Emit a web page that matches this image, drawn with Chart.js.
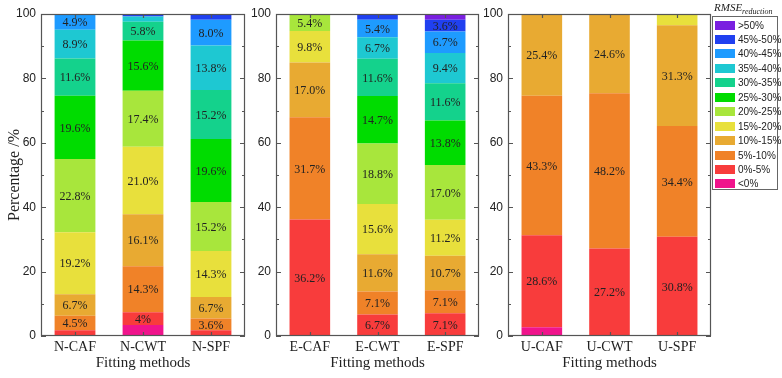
<!DOCTYPE html>
<html>
<head>
<meta charset="utf-8">
<script src="https://cdn.jsdelivr.net/npm/chart.js@4.4.1/dist/chart.umd.min.js"></script>
<style>
  body { margin: 0; background: #fff; }
  #wrap { position: relative; width: 782px; height: 378px; overflow: hidden; }
  canvas { position: absolute; top: 0; }
  #legend { position: absolute; left: 712px; top: 16px; width: 66px; height: 174px;
            border: 1px solid #666; box-sizing: border-box; font: 10px "Liberation Sans", Arial, sans-serif; color: #222; }
  #legend .row { position: absolute; left: 2px; height: 14px; display: flex; align-items: center; }
  #legend .sw { width: 20px; height: 9px; margin-right: 3px; }
  #ltitle { position: absolute; left: 714px; top: 1px; font: italic 11px "Liberation Serif", serif; color: #222; }
  #ltitle sub { font-size: 8px; }
</style>
</head>
<body>
<div id="wrap">
  <canvas id="c1" width="250" height="378" style="left:0px"></canvas>
  <canvas id="c2" width="234" height="378" style="left:250px"></canvas>
  <canvas id="c3" width="232" height="378" style="left:484px"></canvas>
  <div id="ltitle">RMSE<sub>reduction</sub></div>
  <div id="legend"></div>
</div>
<script>
// bins, bottom of the stack first
const bins = ['<0%', '0%-5%', '5%-10%', '10%-15%', '15%-20%', '20%-25%', '25%-30%',
  '30%-35%', '35%-40%', '40%-45%', '45%-50%', '>50%']
const binColors = ['#f0148c', '#f83c3c', '#f08228', '#e8aa32', '#e8e03c', '#a8e63c', '#00dc00',
  '#14d28c', '#1ec8d2', '#1e9bff', '#2040f0', '#7a1fe0']

const nMethods = ['N-CAF', 'N-CWT', 'N-SPF']
const eMethods = ['E-CAF', 'E-CWT', 'E-SPF']
const uMethods = ['U-CAF', 'U-CWT', 'U-SPF']

// one row per bin, one column per method
const nValues = [
  [0, 3.4, 0],
  [1.8, 4, 1.8],
  [4.5, 14.3, 3.6],
  [6.7, 16.1, 6.7],
  [19.2, 21.0, 14.3],
  [22.8, 17.4, 15.2],
  [19.6, 15.6, 19.6],
  [11.6, 5.8, 15.2],
  [8.9, 1.6, 13.8],
  [4.9, 0, 8.0],
  [0, 0.8, 1.8],
  [0, 0, 0]
]
const eValues = [
  [0, 0, 0],
  [36.2, 6.7, 7.1],
  [31.7, 7.1, 7.1],
  [17.0, 11.6, 10.7],
  [9.8, 15.6, 11.2],
  [5.4, 18.8, 17.0],
  [0, 14.7, 13.8],
  [0, 11.6, 11.6],
  [0, 6.7, 9.4],
  [0, 5.4, 6.7],
  [0, 1.8, 3.6],
  [0, 0, 1.8]
]
const uValues = [
  [2.7, 0, 0],
  [28.6, 27.2, 30.8],
  [43.3, 48.2, 34.4],
  [25.4, 24.6, 31.3],
  [0, 0, 3.5],
  [0, 0, 0],
  [0, 0, 0],
  [0, 0, 0],
  [0, 0, 0],
  [0, 0, 0],
  [0, 0, 0],
  [0, 0, 0]
]

const yTicks = [0, 20, 40, 60, 80, 100]

function fmt(v) {
  // the N-CWT 0%-5% segment is printed as "4%" in the figure
  return v === 4 ? '4%' : v.toFixed(1) + '%'
}

const framePlugin = {
  id: 'frame',
  afterDraw(chart) {
    const { ctx, chartArea: a, scales } = chart
    ctx.save()
    ctx.strokeStyle = '#555'
    ctx.lineWidth = 1.2
    ctx.strokeRect(a.left + 0.5, a.top + 0.5, a.right - a.left - 1, a.bottom - a.top - 1)
    ctx.beginPath()
    for (let v = 0; v <= 100; v += 10) {
      const y = Math.round(scales.y.getPixelForValue(v)) + 0.5
      const len = v % 20 === 0 ? 5 : 3
      ctx.moveTo(a.left, y); ctx.lineTo(a.left + len, y)
      ctx.moveTo(a.right, y); ctx.lineTo(a.right - len, y)
    }
    chart.data.labels.forEach((l, i) => {
      const x = Math.round(scales.x.getPixelForValue(i)) + 0.5
      ctx.moveTo(x, a.top); ctx.lineTo(x, a.top + 4)
      ctx.moveTo(x, a.bottom); ctx.lineTo(x, a.bottom - 4)
    })
    ctx.stroke()
    ctx.restore()
  },
  afterDatasetsDraw(chart) {
    const ctx = chart.ctx
    ctx.save()
    ctx.font = '12px "Liberation Serif", "Times New Roman", serif'
    ctx.fillStyle = '#222'
    ctx.textAlign = 'center'
    ctx.textBaseline = 'middle'
    chart.data.datasets.forEach((ds, di) => {
      chart.getDatasetMeta(di).data.forEach((el, i) => {
        const v = ds.data[i]
        if (v >= 3.6) ctx.fillText(fmt(v), el.x, (el.y + el.base) / 2 + 1)
      })
    })
    ctx.restore()
  }
}

function makePanel(id, methods, values, yWidth, showTitle) {
  const datasets = bins.map((b, k) => ({
    label: b,
    data: values[k],
    backgroundColor: binColors[k],
    borderWidth: 0,
    barPercentage: 0.6,
    categoryPercentage: 1.0
  }))
  return new Chart(document.getElementById(id), {
    type: 'bar',
    data: { labels: methods, datasets: datasets },
    plugins: [framePlugin],
    options: {
      responsive: false,
      animation: false,
      devicePixelRatio: 1,
      layout: { padding: { top: 14, right: 5, left: 0, bottom: 0 } },
      plugins: { legend: { display: false }, tooltip: { enabled: false } },
      scales: {
        x: {
          stacked: true,
          grid: { display: false, drawTicks: false },
          border: { display: false },
          ticks: { color: '#222', padding: 3, font: { family: '"Liberation Serif", serif', size: 14 } },
          title: { display: true, text: 'Fitting methods', color: '#222', padding: { top: 0, bottom: 6 },
                   font: { family: '"Liberation Serif", serif', size: 15 } },
          afterFit: (s) => { s.height = 42 }
        },
        y: {
          stacked: true,
          min: 0,
          max: 100,
          grid: { display: false, drawTicks: false },
          border: { display: false },
          afterBuildTicks: (s) => { s.ticks = yTicks.map((v) => ({ value: v })) },
          ticks: { color: '#222', padding: 5, font: { family: '"Liberation Sans", Arial, sans-serif', size: 12 } },
          title: { display: showTitle, text: 'Percentage /%', color: '#222', padding: { top: 5, bottom: 0 },
                   font: { family: '"Liberation Serif", serif', size: 16 } },
          afterFit: (s) => { s.width = yWidth }
        }
      }
    }
  })
}

makePanel('c1', nMethods, nValues, 41, true)
makePanel('c2', eMethods, eValues, 26, false)
makePanel('c3', uMethods, uValues, 24, false)

// legend, top entry first
const legend = document.getElementById('legend')
for (let k = bins.length - 1, r = 0; k >= 0; k--, r++) {
  const row = document.createElement('div')
  row.className = 'row'
  row.style.top = (1 + r * 14.45) + 'px'
  row.innerHTML = '<span class="sw" style="background:' + binColors[k] + '"></span>' + bins[k]
  legend.appendChild(row)
}
</script>
</body>
</html>
